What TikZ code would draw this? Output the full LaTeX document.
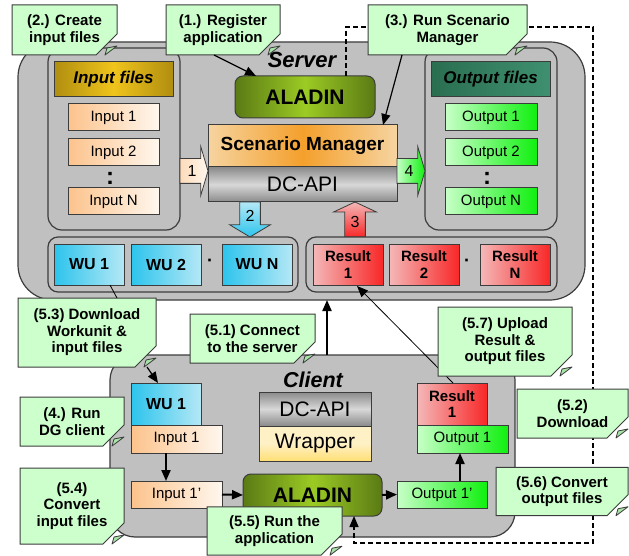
\documentclass[tikz,border=0pt]{standalone}
\usepackage{fontspec}
\setmainfont{Liberation Sans}
\usepackage{xcolor}
\usetikzlibrary{calc,positioning,arrows.meta,shapes.misc,shapes.arrows}
\definecolor{boxGray}{HTML}{C0C0C0}
\definecolor{edgeGray}{HTML}{3C3C3C}
\definecolor{callGreen}{HTML}{CCFFCC}
\definecolor{earGreen}{HTML}{A8E4A8}
\definecolor{inOrange}{HTML}{FCC38C}
\definecolor{inWhite}{HTML}{FFF7EE}
\definecolor{outPale}{HTML}{C8FFC8}
\definecolor{outGreen}{HTML}{10F010}
\definecolor{wuBlue}{HTML}{2CC4EC}
\definecolor{wuPale}{HTML}{B4E8F6}
\definecolor{resPale}{HTML}{F4B8B8}
\definecolor{resRed}{HTML}{F82828}
\definecolor{olDark}{HTML}{5A7A14}
\definecolor{olLight}{HTML}{9CCB24}
\definecolor{goldDark}{HTML}{B08E10}
\definecolor{goldLight}{HTML}{F0C41C}
\definecolor{tealDark}{HTML}{2A6E50}
\definecolor{tealLight}{HTML}{3E9070}
\definecolor{smLight}{HTML}{F6D4A0}
\definecolor{smOrange}{HTML}{F4A02C}
\definecolor{apiDark}{HTML}{8A8A8A}
\definecolor{apiLight}{HTML}{D8D8D8}
\definecolor{wrapLight}{HTML}{FFF1C6}
\definecolor{wrapYellow}{HTML}{FFD030}
\tikzset{
  >={Triangle[length=11pt,width=9pt]},
  group/.style={rectangle, rounded corners=#1, draw=edgeGray, line width=1.2pt, fill=boxGray},
  group/.default=14pt,
  notebox/.style={
    chamfered rectangle,
    chamfered rectangle corners=south east,
    chamfered rectangle xsep=12pt,
    chamfered rectangle ysep=9pt,
    draw=edgeGray, line width=1pt,
    fill=callGreen,
    font=\fontsize{15}{16.5}\selectfont\bfseries},
  ear/.style={draw=edgeGray, line width=0.8pt, fill=earGreen, line join=round},
}

\begin{document}
\begin{tikzpicture}[x=1pt, y=-1pt, node distance=0pt]
    \tikzset{
        every node/.style={inner sep=0pt, outer sep=0pt, align=center},
        filebox/.style={rectangle, draw=edgeGray, line width=1pt, minimum width=91, minimum height=27, font=\fontsize{15}{17}\selectfont},
        inputbox/.style={filebox, left color=inOrange, right color=inWhite},
        outputbox/.style={filebox, left color=outPale, right color=outGreen},
        unitbox/.style={rectangle, draw=edgeGray, line width=1pt, minimum width=70, minimum height=41, font=\fontsize{16}{17}\selectfont\bfseries},
        wubox/.style={unitbox, left color=wuBlue, right color=wuPale},
        resbox/.style={unitbox, left color=resPale, right color=resRed, font=\fontsize{15}{16.5}\selectfont\bfseries},
        headbox/.style={rectangle, draw=edgeGray, line width=1pt, minimum width=119, minimum height=35, font=\fontsize{17}{18}\selectfont\bfseries\itshape},
        aladinbox/.style={rectangle, rounded corners=8pt, draw=edgeGray, line width=1pt, minimum height=42, left color=olDark, right color=olDark, middle color=olLight, font=\fontsize{21}{22}\selectfont\bfseries},
        apibox/.style={rectangle, draw=edgeGray, line width=1pt, minimum width=112, minimum height=35, top color=apiDark, bottom color=apiDark, middle color=apiLight, font=\fontsize{21}{22}\selectfont},
        blockarrow/.style={single arrow, draw=edgeGray, line width=0.8pt, font=\fontsize{16}{16}\selectfont, text height=11pt, text depth=0pt},
        listdots/.style={font=\fontsize{24}{24}\selectfont\bfseries},
        rowdot/.style={font=\fontsize{18}{18}\selectfont\bfseries},
        myarrow/.style={draw=black, line width=1.2pt, ->},
        thinarrow/.style={draw=black, line width=0.8pt, ->},
        fatarrow/.style={draw=black, line width=2pt, ->},
        dashline/.style={draw=black, line width=1.5pt, dash pattern=on 5pt off 3pt, ->},
    }
    \useasboundingbox (0,0) rectangle (629,556);

    \node[group=35pt, minimum width=567, minimum height=258] (serverBox) at (301.5,171) {};
    \node[font=\fontsize{22}{22}\selectfont\bfseries\itshape] (serverLabel) at (302,60) {Server};

    \node[group, minimum width=132, minimum height=182] (inGroup) at (114,139) {};
    \node[headbox, left color=goldDark, right color=goldDark, middle color=goldLight] (inHead) at (113.5,79.5) {Input files};
    \node[inputbox] (in1) at (113.5,117.5) {Input 1};
    \node[inputbox, below=8pt of in1] (in2) {Input 2};
    \node[inputbox, below=22pt of in2] (inN) {Input N};
    \node[listdots] (inDots) at (110,178) {:};

    \node[group, minimum width=132, minimum height=182] (outGroup) at (491,139) {};
    \node[headbox, left color=tealDark, right color=tealLight] (outHead) at (490.5,79.5) {Output files};
    \node[outputbox, minimum width=92] (out1) at (491,117.5) {Output 1};
    \node[outputbox, minimum width=92, below=8pt of out1] (out2) {Output 2};
    \node[outputbox, minimum width=92, below=22pt of out2] (outN) {Output N};
    \node[listdots] (outDots) at (487,178) {:};

    \node[aladinbox, minimum width=140] (aladinS) at (305,97) {ALADIN};
    \node[rectangle, draw=edgeGray, line width=1pt, minimum width=189, minimum height=42, left color=smLight, right color=smLight, middle color=smOrange, font=\fontsize{19}{20}\selectfont\bfseries] (scen) at (302.5,146) {Scenario Manager};
    \node[apibox, minimum width=189, below=0pt of scen] (dcS) {DC-API};

    \node[blockarrow, anchor=tail, inner ysep=6.5pt, inner xsep=2pt, single arrow head extend=12pt, single arrow tip angle=147, minimum height=28, left color=inOrange!60!white, right color=inWhite] (arrOne) at (180,171) {1};
    \node[blockarrow, anchor=tail, inner ysep=6.5pt, inner xsep=2pt, single arrow head extend=12pt, single arrow tip angle=147, minimum height=28, left color=outPale, right color=outGreen] (arrFour) at (397,171) {4};
    \node[blockarrow, anchor=tail, shape border rotate=270, inner xsep=5.5pt, inner ysep=2pt, single arrow head extend=10pt, single arrow tip angle=118, minimum height=35, top color=wuPale, bottom color=wuBlue] (arrTwo) at (250,202) {2};
    \node[blockarrow, anchor=tail, shape border rotate=90, inner xsep=5.5pt, inner ysep=2pt, single arrow head extend=11pt, single arrow tip angle=130, minimum height=35, top color=resPale, bottom color=resRed] (arrThree) at (355,237) {3};

    \node[group=10pt, minimum width=250, minimum height=55] (wuGroup) at (173,264.5) {};
    \node[wubox] (wu1) at (89,264.5) {WU 1};
    \node[wubox, right=7pt of wu1] (wu2) {WU 2};
    \node[wubox, right=21pt of wu2] (wuN) {WU N};
    \node[rowdot] (wuDots) at (210,263) {·};

    \node[group=10pt, minimum width=251, minimum height=55] (resGroup) at (431.5,264.5) {};
    \node[resbox] (res1) at (348,264.5) {Result\\1};
    \node[resbox, right=6pt of res1] (res2) {Result\\2};
    \node[resbox, right=21pt of res2] (resN) {Result\\N};
    \node[rowdot] (resDots) at (467,263) {·};

    \node[group=25pt, minimum width=405, minimum height=182] (client) at (312.5,446) {};
    \node[font=\fontsize{21.5}{22}\selectfont\bfseries\itshape] (clientLabel) at (313,380) {Client};
    \node[wubox, minimum height=42] (cwu) at (166,404) {WU 1};
    \node[inputbox, minimum height=28, anchor=north west] (cin1) at (cwu.south west) {Input 1};
    \node[inputbox, below=28pt of cin1] (cin1p) {Input 1’};
    \node[apibox, minimum height=34] (cdc) at (315,409) {DC-API};
    \node[apibox, below=0pt of cdc, top color=wrapLight, bottom color=wrapYellow!55!wrapLight, middle color=wrapLight] (cwrap) {Wrapper};
    \node[aladinbox, minimum width=139] (caladin) at (312.5,495) {ALADIN};
    \node[outputbox, minimum width=90] (cout1p) at (442,494.5) {Output 1’};
    \node[resbox, minimum height=42] (cres) at (452,404) {Result\\1};
    \node[outputbox, minimum height=28, anchor=north west] (cout1) at (cres.south west) {Output 1};

    \path[fatarrow] (cwu.south |- cin1.south) -- (cwu.south |- cin1p.north);
    \path[fatarrow] (cin1p.east) -- (caladin.west);
    \path[fatarrow] (caladin.east) -- (cout1p.west);
    \coordinate (outUp) at ($(cout1p.north east)+(-27,0)$);
    \path[fatarrow] (outUp) -- (outUp |- cout1.south);
    \path[fatarrow] ($(client.north)+(14.5,0)$) -- ($(serverBox.south)+(25.5,0)$);
    \path[thinarrow] ($(cres.north)+(1,0)$) -- ($(res1.south)+(9,1)$);

    \coordinate (dashNE) at (593,27);
    \coordinate (dashSE) at (593,543);
    \path[dashline] ($(aladinS.north)+(41,0)$) |- (dashNE) -- (dashSE) -| ($(caladin.south)+(41.5,0)$);

    \node[notebox, minimum width=105, minimum height=50] (note2) at (64.5,30) {(2.) Create\\input files};
    \node[notebox, minimum width=114, minimum height=50] (note1) at (223,30) {(1.) Register\\application};
    \node[notebox, minimum width=159, minimum height=50] (note3) at (447.5,30) {(3.) Run Scenario\\Manager};
    \node[notebox, minimum width=138, minimum height=69] (note53) at (87,332.5) {(5.3) Download\\Workunit \&\\input files};
    \node[notebox, minimum width=125, minimum height=49] (note51) at (252.5,338.5) {(5.1) Connect\\to the server};
    \node[notebox, minimum width=104, minimum height=49] (note4) at (72,421.5) {(4.) Run\\DG client};
    \node[notebox, minimum width=104, minimum height=76] (note54) at (72,506) {(5.4)\\Convert\\input files};
    \node[notebox, minimum width=135, minimum height=44] (note55) at (274.5,531) {(5.5) Run the\\application};
    \node[notebox, minimum width=134, minimum height=69] (note57) at (505,341.5) {(5.7) Upload\\Result \&\\output files};
    \node[notebox, minimum width=111, minimum height=49] (note52) at (572.5,413.5) {(5.2)\\Download};
    \node[notebox, minimum width=132, minimum height=47] (note56) at (562,491.5) {(5.6) Convert\\output files};

    \foreach \n in {note1,note2,note3,note4,note51,note52,note53,note54,note55,note56,note57}
        \filldraw[ear] ($(\n.east |- \n.south)+(-12,0)$) -- ($(\n.east |- \n.south)+(-10,-7)$) -- ($(\n.east |- \n.south)+(0,-9)$) -- cycle;

    \path[myarrow] ($(note1.south)+(-9,0)$) -- ($(aladinS.north west)+(21,0)$);
    \path[myarrow] ($(note3.south)+(-45.5,0)$) -- ($(scen.north east)+(-14,0)$);
    \draw[draw=black, line width=0.8pt] ($(wu1.south)+(21,0)$) -- ($(note53.north)+(30,0)$);
    \path[myarrow] ($(note53.south)+(60,0)$) -- ($(cwu.north)+(-8,0)$);

\end{tikzpicture}
\end{document}
